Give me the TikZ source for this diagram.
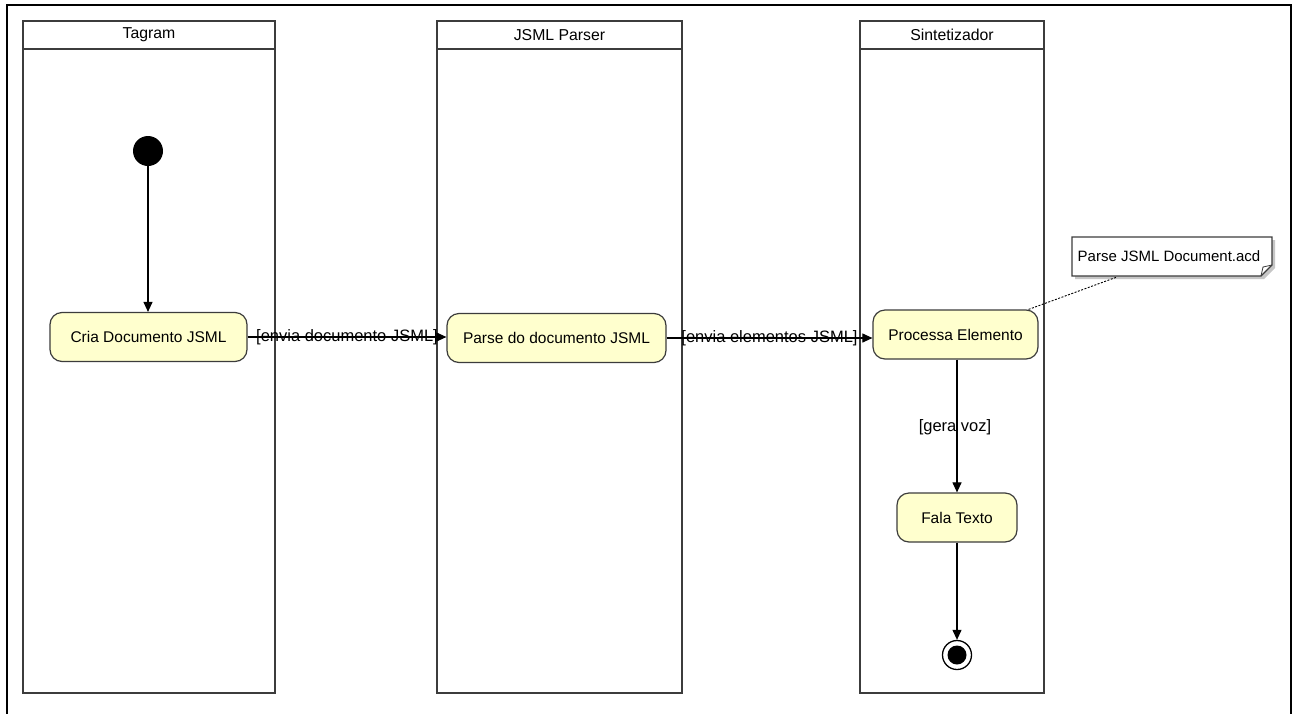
\documentclass[tikz,border=0pt]{standalone}
\usepackage{fontspec}
\setmainfont{Liberation Sans}
\usetikzlibrary{arrows.meta}
\definecolor{actfill}{RGB}{255,255,206}
\definecolor{lanegray}{RGB}{60,60,60}
\tikzset{
  lane/.style={draw=lanegray, line width=1.2pt},
  lanetitle/.style={font=\fontsize{15.8}{18}\selectfont, anchor=center},
  activity/.style={draw=lanegray, line width=1.2pt, fill=actfill, rounded corners=12pt,
    minimum height=49pt, inner sep=0pt, font=\fontsize{15.5}{18}\selectfont},
  flow/.style={draw=black, line width=1.1pt, -{Triangle[length=10pt,width=9pt]}},
  guard/.style={font=\fontsize{16.5}{19}\selectfont, inner sep=0pt},
  notebox/.style={font=\fontsize{15}{17}\selectfont},
}
\begin{document}
\begin{tikzpicture}[x=1pt,y=-1pt]
\useasboundingbox (0,0) rectangle (1299,713);
\fill[white] (0,0) rectangle (1299,713);
% outer frame
\draw[line width=2.6pt] (7,720) -- (7,5) -- (1291,5) -- (1291,720);

% swimlanes
\draw[lane] (23,21) rectangle (275,693);
\draw[lane] (23,49) -- (275,49);
\node[lanetitle] (t1) at (149,35) {Tagram};
\draw[lane] (437,21) rectangle (682,693);
\draw[lane] (437,49) -- (682,49);
\node[lanetitle] (t2) at (559.5,35) {JSML Parser};
\draw[lane] (860,21) rectangle (1044,693);
\draw[lane] (860,49) -- (1044,49);
\node[lanetitle] (t3) at (952,35) {Sintetizador};

% initial and final states
\node[circle, fill=black, minimum size=30pt, inner sep=0pt] (start) at (148,151) {};
\node[circle, draw=black, line width=1.3pt, minimum size=29pt, inner sep=0pt, fill=white] (final) at (957,655) {};
\node[circle, fill=black, minimum size=19pt, inner sep=0pt] (finaldot) at (957,655) {};

% activities
\node[activity, minimum width=197pt] (cria) at (148.5,337) {Cria Documento JSML};
\node[activity, minimum width=219pt] (parse) at (556.5,338) {Parse do documento JSML};
\node[activity, minimum width=165pt] (proc) at (955.5,334.5) {Processa Elemento};
\node[activity, minimum width=120pt] (fala) at (957,517.5) {Fala Texto};

% control flows
\draw[flow] (start) -- (cria.north -| start);
\draw[flow] (cria.east) -- (parse.west |- cria.east)
  node[guard, midway] {[envia documento JSML]};
\draw[flow] (parse.east) -- (proc.west |- parse.east)
  node[guard, midway] {[envia elementos JSML]};
\draw[flow] (proc.south -| fala) -- (fala.north);
\node[guard] (gv) at (955,427) {[gera voz]};
\draw[flow] (fala.south) -- (final.north);

% note with folded corner and its shadow
\fill[gray!45] (1075,240) -- (1275,240) -- (1275,268) -- (1264,279) -- (1075,279) -- cycle;
\draw[lanegray, line width=1.1pt, fill=white] (1072,237) -- (1272,237) -- (1272,265) -- (1261,276) -- (1072,276) -- cycle;
\draw[lanegray, line width=0.8pt] (1261,276) -- (1263,267) -- (1272,265);
\node[notebox] (note) at (1169,256) {Parse JSML Document.acd};
\coordinate (noteanchor) at (1117,277);
\draw[black, line width=0.9pt, dash pattern=on 2pt off 1.5pt] (proc.north east) ++(-10pt,0) coordinate (pa) (pa) -- (noteanchor);
\end{tikzpicture}
\end{document}
